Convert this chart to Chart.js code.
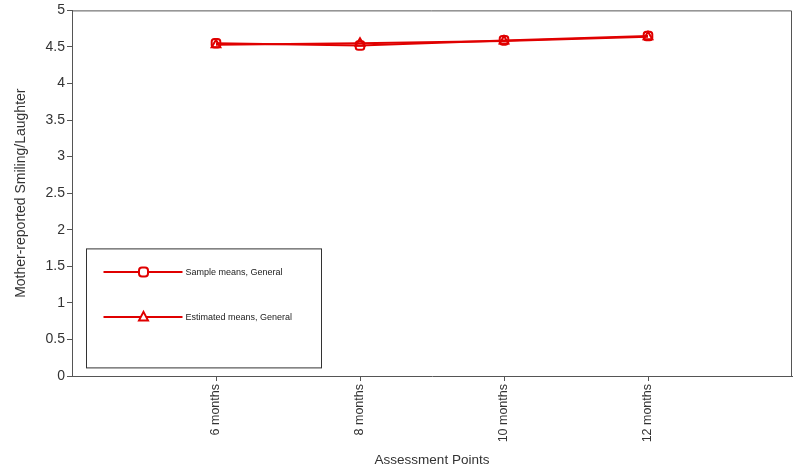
<!DOCTYPE html>
<html>
<head>
<meta charset="utf-8">
<script src="https://cdn.jsdelivr.net/npm/chart.js@4/dist/chart.umd.min.js"></script>
<style>
  html, body { margin: 0; padding: 0; background: #fff; }
  #wrap { width: 800px; height: 472px; }
</style>
</head>
<body>
<div id="wrap"><canvas id="chart"></canvas></div>
<script>
// data
const months = ['6 months', '8 months', '10 months', '12 months'];
const sampleMeans = [4.55, 4.52, 4.59, 4.65];
const estimatedMeans = [4.53, 4.55, 4.58, 4.64];
const yTicks = [0, 0.5, 1, 1.5, 2, 2.5, 3, 3.5, 4, 4.5, 5];

const red = '#e00000';
const axisGrey = '#555';
const fontFamily = '"Liberation Sans", Arial, sans-serif';

function toPoints(arr) {
    return arr.map((v, i) => ({ x: i + 1, y: v }));
}

// box round the plot + legend box in the lower left
const framePlugin = {
    id: 'frame',
    afterDraw(chart) {
        const ctx = chart.ctx;
        const a = chart.chartArea;
        ctx.save();
        ctx.strokeStyle = axisGrey;
        ctx.lineWidth = 1;
        ctx.beginPath();
        ctx.moveTo(a.left, a.top + 0.5);
        ctx.lineTo(a.right - 0.5, a.top + 0.5);
        ctx.lineTo(a.right - 0.5, a.bottom);
        ctx.stroke();

        // legend
        const bx = a.left + 14.5, by = a.top + 238.5, bw = 235, bh = 119;
        ctx.strokeStyle = '#333';
        ctx.strokeRect(bx, by, bw, bh);
        ctx.font = '9px ' + fontFamily;
        ctx.textBaseline = 'middle';
        chart.data.datasets.forEach((ds, i) => {
            const y = by + 23 + i * 45;
            ctx.strokeStyle = ds.borderColor;
            ctx.lineWidth = 2;
            ctx.beginPath();
            ctx.moveTo(bx + 17, y);
            ctx.lineTo(bx + 96, y);
            ctx.stroke();
            const mx = bx + 57;
            ctx.fillStyle = '#fff';
            ctx.beginPath();
            if (ds.pointStyle === 'triangle') {
                ctx.moveTo(mx, y - 5);
                ctx.lineTo(mx + 4.5, y + 3.5);
                ctx.lineTo(mx - 4.5, y + 3.5);
                ctx.closePath();
            } else {
                ctx.roundRect(mx - 4.5, y - 4.5, 9, 9, 3);
            }
            ctx.fill();
            ctx.stroke();
            ctx.fillStyle = '#222';
            ctx.fillText(ds.label, bx + 99, y + 1);
        });
        ctx.restore();
    }
};

new Chart(document.getElementById('chart'), {
    type: 'line',
    data: {
        datasets: [
            {
                label: 'Sample means, General',
                data: toPoints(sampleMeans),
                borderColor: red,
                backgroundColor: 'rgba(255,255,255,0)',
                borderWidth: 2,
                pointStyle: 'rectRounded',
                pointRadius: 5,
                pointBorderWidth: 2,
                tension: 0
            },
            {
                label: 'Estimated means, General',
                data: toPoints(estimatedMeans),
                borderColor: red,
                backgroundColor: 'rgba(255,255,255,0)',
                borderWidth: 2,
                pointStyle: 'triangle',
                pointRadius: 5,
                pointBorderWidth: 2,
                tension: 0
            }
        ]
    },
    options: {
        responsive: true,
        maintainAspectRatio: false,
        animation: false,
        layout: { padding: { top: 10, right: 8, left: 0, bottom: 0 } },
        plugins: {
            legend: { display: false },
            tooltip: { enabled: false }
        },
        scales: {
            x: {
                type: 'linear',
                min: 0,
                max: 5,
                afterBuildTicks(scale) {
                    scale.ticks = months.map((m, i) => ({ value: i + 1 }));
                },
                afterFit(scale) { scale.height = 96; },
                grid: { display: true, drawOnChartArea: false, drawTicks: true, tickLength: 5, tickColor: axisGrey },
                border: { color: axisGrey, width: 1 },
                ticks: {
                    autoSkip: false,
                    minRotation: 90,
                    maxRotation: 90,
                    padding: 3,
                    color: '#333',
                    font: { family: fontFamily, size: 12.5 },
                    callback: (v) => months[v - 1] || ''
                },
                title: {
                    display: true,
                    text: 'Assessment Points',
                    color: '#333',
                    font: { family: fontFamily, size: 13.5 },
                    padding: { top: 4, bottom: 4 }
                }
            },
            y: {
                min: 0,
                max: 5,
                afterBuildTicks(scale) {
                    scale.ticks = yTicks.map(v => ({ value: v }));
                },
                afterFit(scale) { scale.width = 72; },
                grid: { display: true, drawOnChartArea: false, drawTicks: true, tickLength: 5, tickColor: axisGrey },
                border: { color: axisGrey, width: 1 },
                ticks: {
                    padding: 2,
                    color: '#333',
                    font: { family: fontFamily, size: 14 },
                    callback: (v) => String(v)
                },
                title: {
                    display: true,
                    text: 'Mother-reported Smiling/Laughter',
                    color: '#333',
                    font: { family: fontFamily, size: 14 },
                    padding: { top: 13, bottom: 4 }
                }
            }
        }
    },
    plugins: [framePlugin]
});
</script>
</body>
</html>
